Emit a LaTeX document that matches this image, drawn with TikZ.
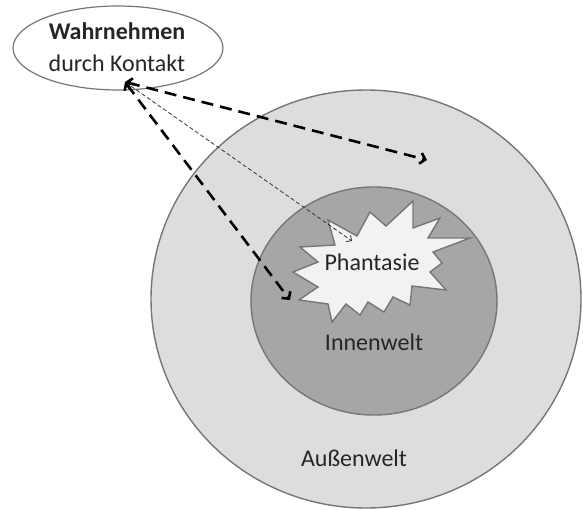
\documentclass[tikz,border=0pt]{standalone}
\usepackage{fontspec}
\setmainfont{Carlito}
\usetikzlibrary{arrows.meta}
\usetikzlibrary{positioning}
\usetikzlibrary{shapes.geometric}

\definecolor{aussen}{RGB}{221,221,221}
\definecolor{innen}{RGB}{166,166,166}
\definecolor{stern}{RGB}{242,242,242}
\definecolor{rand}{RGB}{118,118,118}

\tikzset{
    welt/.style={draw=rand, line width=1.4pt},
    beschriftung/.style={font=\fontsize{24}{27}\selectfont, text=black!85, inner sep=0pt},
    pfeil/.style={black, line width=2.6pt, dash pattern=on 12pt off 7pt, {Straight Barb[length=5pt,width=11pt]}-{Straight Barb[length=5pt,width=11pt]}},
    duennpfeil/.style={black!80, line width=0.8pt, dash pattern=on 4pt off 2.5pt, {Straight Barb[length=4pt,width=8pt]}-{Straight Barb[length=4pt,width=8pt]}}
}

\begin{document}
\begin{tikzpicture}[x=1pt, y=-1pt]
    \useasboundingbox (0,0) rectangle (583,510);

    % Welten
    \draw[welt, fill=aussen] (366,299) ellipse (215 and 209);
    \draw[welt, fill=innen] (374,301) ellipse (123 and 114);

    % Phantasie
    \draw[welt, fill=stern, line join=miter]
        (328,220) -- (357,236) -- (370,212) -- (386,226) -- (413,201) -- (413,228)
        -- (440,218) -- (428,238) -- (470,238) -- (433,252) -- (442,263) -- (430,272)
        -- (446,290) -- (412,286) -- (410,305) -- (393,297) -- (384,312) -- (368,302)
        -- (360,315) -- (346,304) -- (332,322) -- (328,304) -- (299,300) -- (318,287)
        -- (293,272) -- (318,262) -- (300,247) -- (335,245) -- cycle;
    \node[beschriftung] (phantasie) at (372,262) {Phantasie};
    \node[beschriftung] (innenwelt) at (374,342) {Innenwelt};
    \node[beschriftung] (aussenwelt) at (354,458) {Außenwelt};

    % Wahrnehmen
    \node[ellipse, draw=rand, line width=1.2pt, fill=white, minimum width=210pt, minimum height=84pt] (wahrnehmen) at (118,48) {};
    \node[beschriftung, font=\fontsize{24}{27}\selectfont\bfseries] (titel) at (117,31) {Wahrnehmen};
    \node[beschriftung] (kontakt) at (117,63) {durch Kontakt};

    \coordinate (quelle) at (125,82);
    \coordinate (ziel1) at (427,160);
    \coordinate (ziel2) at (290,300);
    \coordinate (ziel3) at (352,241);

    \draw[duennpfeil] (quelle) -- (ziel3);
    \draw[pfeil] (quelle) -- (ziel1);
    \draw[pfeil] (quelle) -- (ziel2);
\end{tikzpicture}
\end{document}
